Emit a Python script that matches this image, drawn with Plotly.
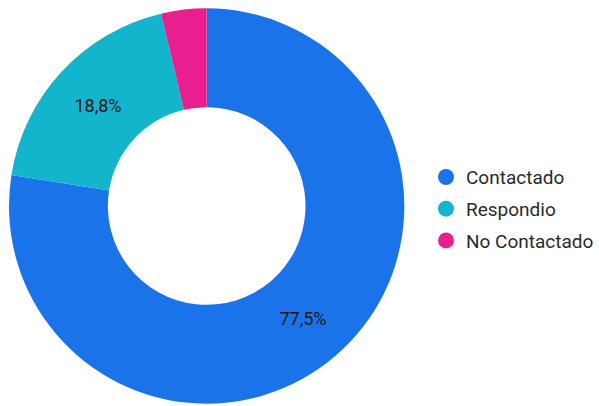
import plotly.graph_objects as go

# Contact status breakdown
labels = ["Contactado", "Respondio", "No Contactado"]
values = [77.5, 18.8, 3.7]
colors = ["#1A73E8", "#12B5CB", "#E91E8F"]

# Percent labels with comma decimal separator; tiny slices stay unlabelled
texts = [(f"{v:.1f}".replace(".", ",") + "%") if v >= 5 else "" for v in values]

L, R, T, B = 9, 0, 8, 2
W, H = 599, 406
diam = H - T - B

fig = go.Figure()
fig.add_trace(go.Pie(
    labels=labels,
    values=values,
    marker=dict(colors=colors, line=dict(width=0)),
    hole=0.5,
    sort=False,
    direction="clockwise",
    rotation=0,
    text=texts,
    textinfo="text",
    textposition="inside",
    insidetextorientation="horizontal",
    textfont=dict(family="Roboto", size=18, color="#151515"),
    showlegend=False,
    domain=dict(x=[0, diam / (W - L - R)], y=[0, 1]),
))

# Legend entries with round markers
for i, (lab, col) in enumerate(zip(labels, colors)):
    fig.add_trace(go.Scatter(
        x=[None], y=[None], mode="markers", name=lab,
        marker=dict(symbol="circle", size=17, color=col),
        legendgroup=f"g{i}",
    ))

fig.update_layout(
    width=W, height=H,
    margin=dict(l=L, r=R, t=T, b=B),
    paper_bgcolor="white", plot_bgcolor="white",
    xaxis=dict(visible=False, domain=[0.75, 1]),
    yaxis=dict(visible=False),
    showlegend=True,
    legend=dict(
        x=0.708, y=0.492, xanchor="left", yanchor="middle",
        font=dict(family="Roboto", size=19, color="#2a2a2a"),
        traceorder="grouped", tracegroupgap=4,
        itemwidth=30,
    ),
)

fig.write_html("out.html")
